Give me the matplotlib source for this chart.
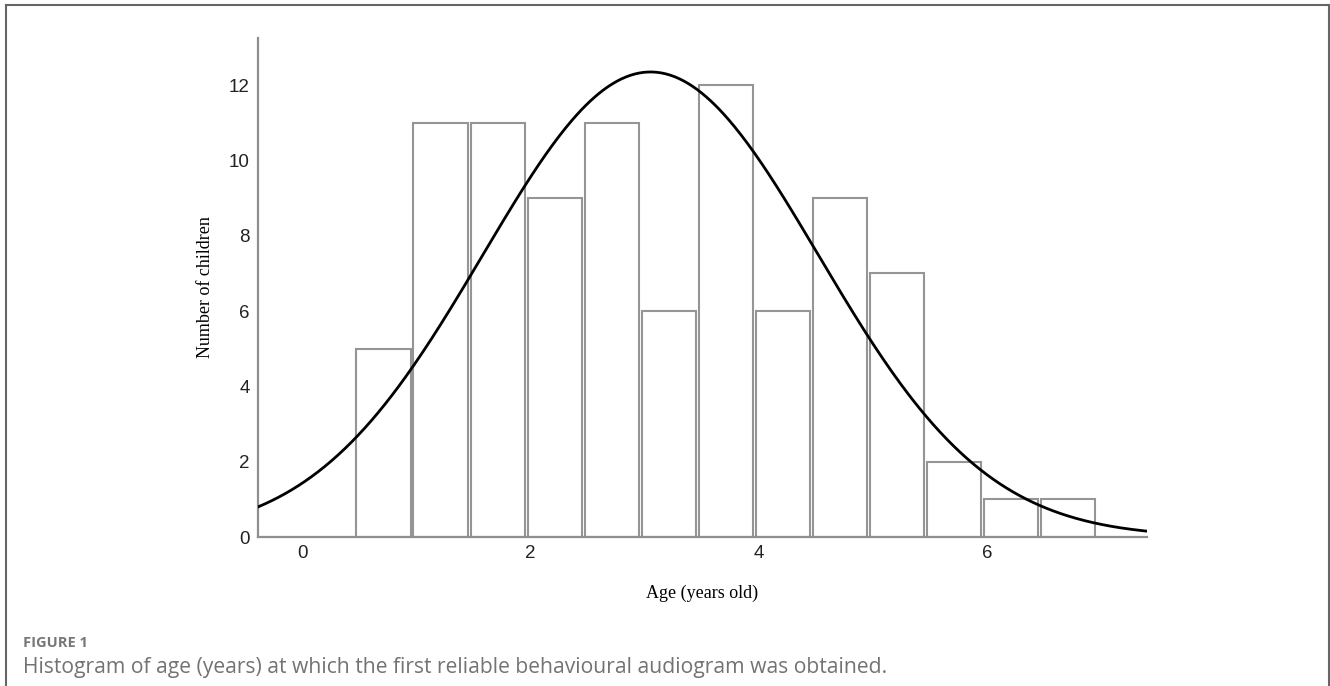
import numpy as np
import matplotlib.pyplot as plt
from matplotlib.lines import Line2D

# --- Data --------------------------------------------------------------------
BIN_START = 0.46          # left edge of first bin (years)
BIN_WIDTH = 0.5
counts = [5, 11, 11, 9, 11, 6, 12, 6, 9, 7, 2, 1, 1]

# normal-curve overlay parameters
fit_mean = 3.05
fit_sd = 1.47
n_children = sum(counts)

x_ticks = [0, 2, 4, 6]
y_ticks = [0, 2, 4, 6, 8, 10, 12]

x_label = "Age (years old)"
y_label = "Number of children"
fig_tag = "FIGURE 1"
caption = ("Histogram of age (years) at which the first reliable behavioural "
           "audiogram was obtained.")

# --- Figure ------------------------------------------------------------------
fig = plt.figure(figsize=(13.3, 6.86), dpi=100)
ax = fig.add_axes([258 / 1330, 1 - 537 / 686, 889 / 1330, 499 / 686])

edges = BIN_START + BIN_WIDTH * np.arange(len(counts))
gap = 0.025
ax.bar(edges + gap / 2, counts, width=BIN_WIDTH - gap, align="edge",
       facecolor="white", edgecolor="#959595", linewidth=1.5, zorder=2)

xs = np.linspace(-0.39, 7.40, 400)
dens = np.exp(-0.5 * ((xs - fit_mean) / fit_sd) ** 2) / (fit_sd * np.sqrt(2 * np.pi))
ax.plot(xs, n_children * BIN_WIDTH * dens, color="black", lw=2, zorder=3)

ax.set_xlim(-0.39, 7.40)
ax.set_ylim(0, 13.25)
ax.set_xticks(x_ticks)
ax.set_yticks(y_ticks)
ax.tick_params(length=0, labelsize=13.5, labelcolor="#222222", pad=6)
for lab in ax.get_xticklabels() + ax.get_yticklabels():
    lab.set_family("Liberation Sans")

for side in ("top", "right"):
    ax.spines[side].set_visible(False)
for side in ("left", "bottom"):
    ax.spines[side].set_color("#8f8f8f")
    ax.spines[side].set_linewidth(1.6)

fig.text(205 / 1330, 1 - 287 / 686, y_label, rotation=90, ha="center",
         va="center", family="Liberation Serif", fontsize=13, color="black")
fig.text(702 / 1330, 1 - 593 / 686, x_label, ha="center", va="center",
         family="Liberation Serif", fontsize=13, color="black")

fig.text(23 / 1330, 1 - 643 / 686, fig_tag, ha="left", va="center",
         family="Open Sans", fontweight="bold", fontsize=10.5, color="#777777")
fig.text(23 / 1330, 1 - 667 / 686, caption, ha="left", va="center",
         family="Open Sans", fontsize=15.2, color="#737373")

# open frame round the figure (no bottom edge)
frame = dict(color="#666666", lw=1.5, transform=fig.transFigure)
fig.add_artist(Line2D([6 / 1330, 6 / 1330], [0, 1 - 5 / 686], **frame))
fig.add_artist(Line2D([6 / 1330, 1329 / 1330], [1 - 5 / 686, 1 - 5 / 686], **frame))
fig.add_artist(Line2D([1329 / 1330, 1329 / 1330], [0, 1 - 5 / 686], **frame))

fig.savefig("out.png", dpi=100)
